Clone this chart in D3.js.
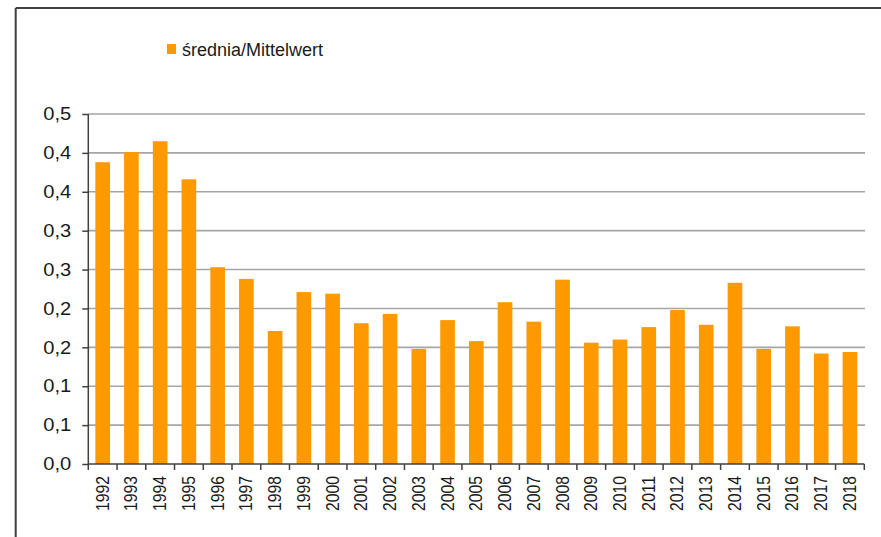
<!DOCTYPE html>
<html>
<head>
<meta charset="utf-8">
<script src="https://cdn.jsdelivr.net/npm/d3@7/dist/d3.min.js"></script>
<style>
  html, body { margin: 0; padding: 0; background: #fff; }
  svg { display: block; font-family: "Liberation Sans", Arial, sans-serif; }
</style>
</head>
<body>
<svg id="chart" width="881" height="537"></svg>
<script>
const years = ["1992","1993","1994","1995","1996","1997","1998","1999","2000","2001","2002","2003","2004","2005","2006","2007","2008","2009","2010","2011","2012","2013","2014","2015","2016","2017","2018"];
const values = [0.388,0.401,0.415,0.366,0.253,0.238,0.171,0.221,0.219,0.181,0.193,0.148,0.185,0.158,0.208,0.183,0.237,0.156,0.160,0.176,0.198,0.179,0.233,0.148,0.177,0.142,0.144];
const yTickValues = [0,0.05,0.1,0.15,0.2,0.25,0.3,0.35,0.4,0.45];
const yTickLabels = ["0,0","0,1","0,1","0,2","0,2","0,3","0,3","0,4","0,4","0,5"];
const seriesName = "średnia/Mittelwert";

(function () {
const svg = d3.select("#chart");
const pLeft = 88.3, pRight = 864.3, pTop = 114, pBottom = 464;

// frame
svg.append("line").attr("x1",15.7).attr("x2",15.7).attr("y1",8).attr("y2",537)
  .attr("stroke","#404040").attr("stroke-width",2);
svg.append("line").attr("x1",15.7).attr("x2",881).attr("y1",8).attr("y2",8)
  .attr("stroke","#404040").attr("stroke-width",2);

const x = d3.scaleBand().domain(years).range([pLeft, pRight]).paddingInner(0.49).paddingOuter(0.245);
const xb = d3.scaleBand().domain(years).range([pLeft, pRight]);
const y = d3.scaleLinear().domain([0, 0.45]).range([pBottom, pTop]);

// gridlines
svg.append("g").selectAll("line").data(yTickValues.filter(d => d > 0)).join("line")
  .attr("x1", pLeft).attr("x2", 865)
  .attr("y1", d => y(d)).attr("y2", d => y(d))
  .attr("stroke", "#a6a6a6").attr("stroke-width", 1.6);

// bars
svg.append("g").selectAll("rect").data(values).join("rect")
  .attr("x", (d,i) => x(years[i]))
  .attr("width", x.bandwidth())
  .attr("y", d => y(d))
  .attr("height", d => y(0) - y(d))
  .attr("fill", "#ff9900");

// y axis
const yAxis = d3.axisLeft(y).tickValues(yTickValues)
  .tickFormat((d,i) => yTickLabels[i]).tickSize(6).tickPadding(11);
const gy = svg.append("g").attr("transform", `translate(${pLeft},0)`).call(yAxis);
gy.select(".domain").attr("stroke","#404040").attr("stroke-width",1.5).attr("d", `M0,${pTop}V${pBottom}`);
gy.selectAll(".tick line").attr("stroke","#404040").attr("stroke-width",1.5);
gy.selectAll(".tick text").attr("font-size", 18).attr("fill","#1a1a1a")
  .attr("font-family","Liberation Sans, Arial, sans-serif")
  .attr("textLength", 28).attr("lengthAdjust", "spacingAndGlyphs");

// x axis line and ticks at band boundaries
svg.append("line").attr("x1", pLeft).attr("x2", pRight).attr("y1", pBottom).attr("y2", pBottom)
  .attr("stroke","#404040").attr("stroke-width",1.5);
const bounds = years.map(d => xb(d)).concat([pRight]);
svg.append("g").selectAll("line").data(bounds).join("line")
  .attr("x1", d => d).attr("x2", d => d).attr("y1", pBottom).attr("y2", pBottom + 6)
  .attr("stroke","#404040").attr("stroke-width",1.5);

// x labels
svg.append("g").selectAll("text").data(years).join("text")
  .attr("transform", d => `translate(${xb(d) + xb.bandwidth()/2},476) rotate(-90)`)
  .attr("text-anchor","end").attr("dominant-baseline","central")
  .attr("font-size", 18).attr("fill","#1a1a1a")
  .attr("textLength", 35).attr("lengthAdjust", "spacingAndGlyphs")
  .text(d => d);

// legend
const lg = svg.append("g");
lg.append("rect").attr("x",167).attr("y",44).attr("width",9).attr("height",10).attr("fill","#ff9900");
lg.append("text").attr("x",182).attr("y",56).attr("font-size",18).attr("fill","#1a1a1a").text(seriesName);
})();
</script>
</body>
</html>
